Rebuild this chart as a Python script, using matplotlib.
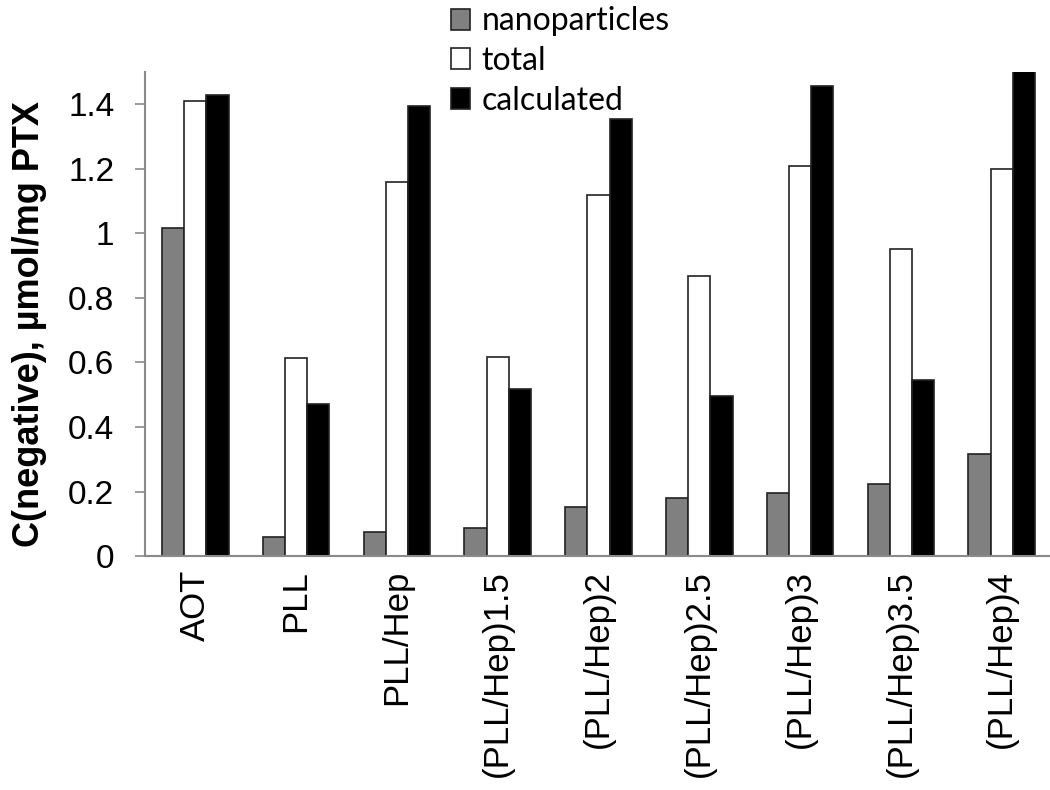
"""
Recreation of grouped bar chart: C(negative) per sample, three series.
"""
import numpy as np
import matplotlib
matplotlib.use("Agg")
import matplotlib.pyplot as plt

# data
categories = ["AOT", "PLL", "PLL/Hep", "(PLL/Hep)1.5", "(PLL/Hep)2",
              "(PLL/Hep)2.5", "(PLL/Hep)3", "(PLL/Hep)3.5", "(PLL/Hep)4"]
nanoparticles = [1.015, 0.058, 0.076, 0.086, 0.153, 0.181, 0.196, 0.225, 0.316]
total = [1.41, 0.613, 1.16, 0.618, 1.118, 0.869, 1.209, 0.952, 1.198]
calculated = [1.429, 0.471, 1.395, 0.519, 1.353, 0.495, 1.455, 0.547, 1.52]
yticks = [0, 0.2, 0.4, 0.6, 0.8, 1, 1.2, 1.4]
ytick_labels = ["0", "0.2", "0.4", "0.6", "0.8", "1", "1.2", "1.4"]

plt.rcParams['font.family'] = ['Liberation Sans', 'DejaVu Sans']


def main():
    fig = plt.figure(figsize=(10.5, 7.9), dpi=100)
    ax = fig.add_axes([0.138, 0.296, 0.864, 0.613])

    x = np.arange(len(categories))
    w = 0.22
    edge = dict(edgecolor='#222222', linewidth=1.2)
    ax.bar(x - w, nanoparticles, w, color='#808080', label='nanoparticles', **edge)
    ax.bar(x, total, w, color='white', label='total', **edge)
    ax.bar(x + w, calculated, w, color='black', label='calculated', **edge)

    ax.set_xlim(-0.5, len(categories) - 0.5)
    ax.set_ylim(0, 1.5)
    ax.set_yticks(yticks)
    ax.set_yticklabels(ytick_labels, fontsize=24)
    ax.set_xticks(x)
    ax.set_xticklabels(categories, rotation=90, fontsize=25, va='top')

    for s in ['top', 'right']:
        ax.spines[s].set_visible(False)
    for s in ['left', 'bottom']:
        ax.spines[s].set_color('#8a8a8a')
        ax.spines[s].set_linewidth(1.5)
    ax.tick_params(axis='y', direction='out', length=7, width=1.2,
                   color='#8a8a8a', pad=15)
    ax.tick_params(axis='x', length=0, pad=10)

    ax.set_ylabel("C(negative), µmol/mg PTX", fontsize=26, fontweight='bold')
    ax.yaxis.set_label_coords(-0.108, 0.48)

    fig.legend(loc='upper left', bbox_to_anchor=(0.414, 1.012), frameon=False,
               prop={'family': ['Lato', 'DejaVu Sans'], 'size': 23},
               handlelength=0.62, handleheight=0.62, handletextpad=0.35,
               labelspacing=0.3, borderpad=0)

    fig.savefig("out.png", dpi=100)
    plt.close(fig)


if __name__ == "__main__":
    main()
